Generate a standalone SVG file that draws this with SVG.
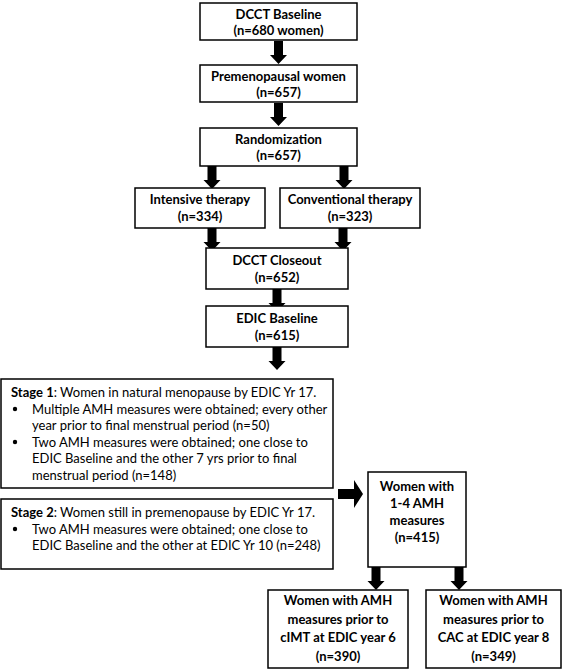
<svg xmlns="http://www.w3.org/2000/svg" width="568" height="671" viewBox="0 0 568 671">
<style>
.box{fill:#fff;stroke:#000;stroke-width:1.5}
.t{font-family:Lato,"Liberation Sans",sans-serif;font-size:13px;font-weight:bold;fill:#000;text-anchor:middle}
.s{font-family:Lato,"Liberation Sans",sans-serif;font-size:13px;fill:#000}
.sb{font-weight:bold}
.arr{fill:#000}
</style>
<defs>
<path id="ad" d="M-4.5 0v14h-4l8.5 9l8.5-9h-4v-14z"/>
</defs>
<rect width="568" height="671" fill="#fff"/>
<g id="connectors">
<use href="#ad" class="arr" x="278.5" y="41"/>
<use href="#ad" class="arr" x="278.5" y="103"/>
<use href="#ad" class="arr" x="212" y="166"/>
<use href="#ad" class="arr" x="344" y="166"/>
<use href="#ad" class="arr" x="212" y="228"/>
<use href="#ad" class="arr" x="343" y="228"/>
<use href="#ad" class="arr" x="277" y="289"/>
<use href="#ad" class="arr" x="277" y="347"/>
<path class="arr" d="M338 489h16v-9l9 14l-9 14v-9h-16z"/>
<use href="#ad" class="arr" x="376" y="567"/>
<use href="#ad" class="arr" x="459" y="567"/>
</g>
<g id="n1"><rect class="box" x="200" y="3" width="157" height="37"/><text class="t" x="278.5" y="18.5">DCCT Baseline</text><text class="t" x="278.5" y="35">(n=680 women)</text></g>
<g id="n2"><rect class="box" x="200" y="65" width="157" height="37"/><text class="t" x="278.5" y="80.5">Premenopausal women</text><text class="t" x="278.5" y="97">(n=657)</text></g>
<g id="n3"><rect class="box" x="200" y="128" width="157" height="38"/><text class="t" x="278.5" y="143.5">Randomization</text><text class="t" x="278.5" y="160">(n=657)</text></g>
<g id="n4"><rect class="box" x="135" y="188" width="130" height="40"/><text class="t" x="200" y="204">Intensive therapy</text><text class="t" x="200" y="221">(n=334)</text></g>
<g id="n5"><rect class="box" x="280" y="188" width="140" height="40"/><text class="t" x="350" y="204">Conventional therapy</text><text class="t" x="350" y="221">(n=323)</text></g>
<g id="n6"><rect class="box" x="206" y="248" width="142" height="41"/><text class="t" x="277" y="265">DCCT Closeout</text><text class="t" x="277" y="282">(n=652)</text></g>
<g id="n7"><rect class="box" x="206" y="306" width="142" height="41"/><text class="t" x="277" y="323">EDIC Baseline</text><text class="t" x="277" y="340">(n=615)</text></g>
<g id="n8"><rect class="box" x="1" y="379" width="332" height="109"/>
<text class="s" x="11" y="397"><tspan class="sb">Stage 1</tspan>: Women in natural menopause by EDIC Yr 17.</text>
<circle cx="15" cy="409" r="2.2"/><text class="s" x="32" y="413.5">Multiple AMH measures were obtained; every other</text>
<text class="s" x="32" y="430">year prior to final menstrual period (n=50)</text>
<circle cx="15" cy="442" r="2.2"/><text class="s" x="32" y="446.5">Two AMH measures were obtained; one close to</text>
<text class="s" x="32" y="463">EDIC Baseline and the other 7 yrs prior to final</text>
<text class="s" x="32" y="479.5">menstrual period (n=148)</text>
</g>
<g id="n9"><rect class="box" x="1" y="499" width="332" height="70"/>
<text class="s" x="11" y="517"><tspan class="sb">Stage 2</tspan>: Women still in premenopause by EDIC Yr 17.</text>
<circle cx="15" cy="529" r="2.2"/><text class="s" x="32" y="533.5">Two AMH measures were obtained; one close to</text>
<text class="s" x="32" y="550">EDIC Baseline and the other at EDIC Yr 10 (n=248)</text>
</g>
<g id="n10"><rect class="box" x="368" y="472" width="98" height="95"/><text class="t" x="417" y="491">Women with</text><text class="t" x="417" y="508">1-4 AMH</text><text class="t" x="417" y="525">measures</text><text class="t" x="417" y="542">(n=415)</text></g>
<g id="n11"><rect class="box" x="268" y="590" width="140" height="78"/><text class="t" x="338" y="605">Women with AMH</text><text class="t" x="338" y="623.5">measures prior to</text><text class="t" x="338" y="642">cIMT at EDIC year 6</text><text class="t" x="338" y="660.5">(n=390)</text></g>
<g id="n12"><rect class="box" x="426" y="590" width="135" height="78"/><text class="t" x="493.5" y="605">Women with AMH</text><text class="t" x="493.5" y="623.5">measures prior to</text><text class="t" x="493.5" y="642">CAC at EDIC year 8</text><text class="t" x="493.5" y="660.5">(n=349)</text></g>
</svg>
